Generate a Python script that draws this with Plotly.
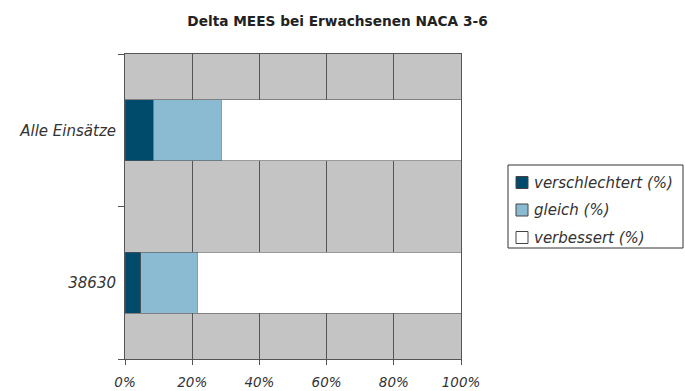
import plotly.graph_objects as go

# Data (percent shares per category)
categories = ["38630", "Alle Einsätze"]
verschlechtert = [4.7, 8.4]
gleich = [16.8, 20.3]
verbessert = [78.5, 71.3]
x_ticks = [0, 20, 40, 60, 80, 100]
x_tick_labels = ["0%", "20%", "40%", "60%", "80%", "100%"]

series_names = ["verschlechtert (%)", "gleich (%)", "verbessert (%)"]
series_values = [verschlechtert, gleich, verbessert]
series_colors = ["#004b6b", "#8bbbd3", "#ffffff"]

W, H = 685, 391
L, R, T, B = 125, 224, 54, 32
FONT = "DejaVu Sans, Verdana, sans-serif"


def px_x(px):
    """Pixel column -> paper x."""
    return (px - L) / (W - L - R)


def px_y(py):
    """Pixel row -> paper y."""
    return (H - B - py) / (H - T - B)


fig = go.Figure()
for name, vals, col in zip(series_names, series_values, series_colors):
    fig.add_trace(go.Bar(
        y=categories, x=vals, name=name, orientation="h",
        marker=dict(color=col, line=dict(color="#555555", width=0.6)),
        showlegend=False,
    ))

# Boxed legend to the right of the plot
shapes = [dict(type="rect", xref="paper", yref="paper",
               x0=px_x(508), x1=px_x(683), y0=px_y(248), y1=px_y(165),
               line=dict(color="#333333", width=1), fillcolor="white")]
annotations = []
row_centers = [182.5, 210, 237.5]
for name, col, cy in zip(series_names, series_colors, row_centers):
    shapes.append(dict(type="rect", xref="paper", yref="paper",
                       x0=px_x(516), x1=px_x(528), y0=px_y(cy + 6), y1=px_y(cy - 6),
                       line=dict(color="#444444", width=1), fillcolor=col))
    annotations.append(dict(text=name, xref="paper", yref="paper",
                            x=px_x(532), y=px_y(cy), xanchor="left", yanchor="middle",
                            showarrow=False,
                            font=dict(family=FONT, size=15, color="#333333", style="italic")))

fig.update_layout(
    width=W, height=H,
    margin=dict(l=L, r=R, t=T, b=B, autoexpand=False),
    paper_bgcolor="white",
    plot_bgcolor="#c4c4c4",
    barmode="stack",
    bargap=0.6,
    showlegend=False,
    shapes=shapes,
    annotations=annotations,
    title=dict(
        text="<b>Delta MEES bei Erwachsenen NACA 3-6</b>",
        font=dict(family=FONT, size=13.7, color="#222222"),
        x=337.5 / W, xref="container", xanchor="center",
        y=1 - 21 / H, yref="container", yanchor="middle",
    ),
    xaxis=dict(
        range=[0, 100], tickmode="array", tickvals=x_ticks, ticktext=x_tick_labels,
        showgrid=True, gridcolor="#555555", gridwidth=1,
        showline=True, linecolor="#555555", linewidth=1, mirror=True,
        ticks="outside", ticklen=5, tickcolor="#555555",
        tickfont=dict(family=FONT, size=13.5, color="#333333", style="italic"),
        ticklabelstandoff=6, automargin=False,
        zeroline=False, fixedrange=True,
    ),
    yaxis=dict(
        type="category", categoryorder="array", categoryarray=categories,
        range=[-0.5, 1.5], tickson="boundaries",
        showgrid=False,
        showline=True, linecolor="#555555", linewidth=1, mirror=True,
        ticks="outside", ticklen=6, tickcolor="#555555",
        tickfont=dict(family=FONT, size=15, color="#333333", style="italic"),
        ticklabelstandoff=5, automargin=False, fixedrange=True,
    ),
)

fig.write_html("out.html")
